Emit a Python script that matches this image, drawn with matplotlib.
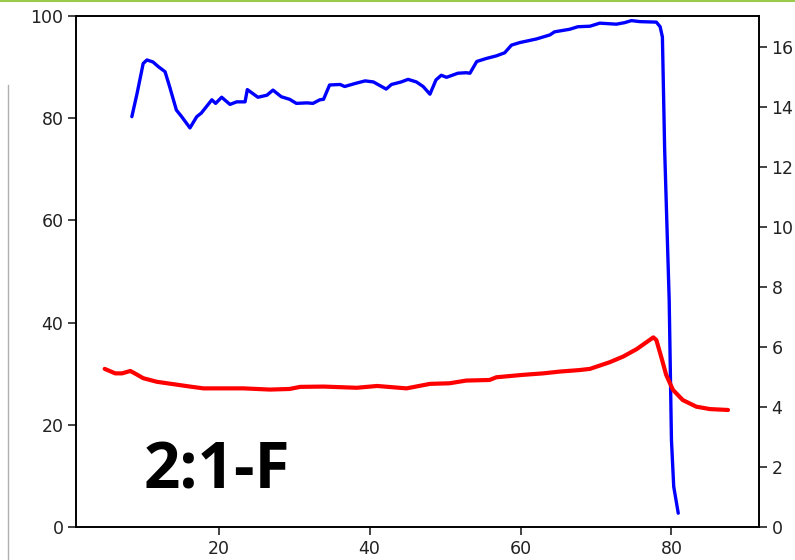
import matplotlib
matplotlib.use("Agg")
import matplotlib.pyplot as plt
from matplotlib.lines import Line2D

# blue trace (left axis, 0-100)
blue_x = [8.5, 9.2, 10.0, 10.5, 11.3, 12.0, 12.9, 13.5, 14.4, 15.1, 16.2, 17.1, 17.7, 18.4,
          19.1, 19.6, 20.4, 21.5, 22.4, 23.5, 23.8, 25.2, 26.4, 27.2, 28.3, 29.4, 30.3, 31.7,
          32.5, 33.4, 33.9, 34.7, 36.1, 36.7, 38.1, 39.4, 40.5, 42.2, 42.9, 44.2, 45.1, 46.2,
          47.1, 48.0, 48.8, 49.5, 50.2, 51.7, 52.8, 53.3, 54.2, 55.5, 56.8, 57.9, 58.8, 59.9,
          62.1, 63.9, 64.5, 66.5, 67.6, 69.2, 70.5, 72.7, 73.8, 74.7, 75.8, 78.0, 78.5, 78.8,
          79.1, 79.7, 80.0, 80.3, 80.9]
blue_y = [80.3, 84.9, 90.7, 91.4, 91.0, 90.1, 89.1, 86.2, 81.6, 80.3, 78.1, 80.3, 81.0, 82.3,
          83.6, 82.9, 84.1, 82.7, 83.2, 83.2, 85.6, 84.1, 84.5, 85.5, 84.2, 83.7, 82.9, 83.0,
          82.9, 83.6, 83.7, 86.5, 86.6, 86.2, 86.8, 87.3, 87.1, 85.7, 86.6, 87.1, 87.6, 87.1,
          86.2, 84.7, 87.5, 88.4, 88.0, 88.8, 88.9, 88.8, 91.1, 91.7, 92.2, 92.8, 94.3, 94.8,
          95.5, 96.3, 96.9, 97.4, 97.9, 98.0, 98.6, 98.4, 98.7, 99.1, 98.9, 98.8, 97.9, 95.9,
          73.8, 44.4, 17.0, 7.9, 2.7]

# red trace (right axis)
red_x = [4.9, 6.3, 7.2, 8.3, 9.1, 10.0, 11.8, 14.0, 16.2, 18.0, 20.6, 23.3, 26.8, 29.4,
         30.8, 33.9, 38.3, 41.0, 44.9, 48.0, 50.6, 52.8, 55.9, 56.8, 60.3, 63.0, 65.2, 67.8,
         69.2, 71.8, 73.6, 75.4, 76.7, 77.6, 78.0, 78.7, 79.3, 80.2, 81.5, 83.3, 85.1, 87.5]
red_y = [5.27, 5.12, 5.12, 5.20, 5.09, 4.96, 4.84, 4.76, 4.68, 4.62, 4.62, 4.62, 4.58, 4.60,
         4.67, 4.68, 4.64, 4.70, 4.62, 4.77, 4.79, 4.88, 4.90, 4.99, 5.07, 5.12, 5.18, 5.23,
         5.27, 5.49, 5.68, 5.93, 6.16, 6.32, 6.23, 5.62, 5.07, 4.57, 4.23, 4.01, 3.93, 3.90]

label = "2:1-F"

fig = plt.figure(figsize=(7.95, 5.6), dpi=100)
ax = fig.add_axes([76 / 795, 33 / 560, 683 / 795, 511 / 560])
ax2 = ax.twinx()

ax.plot(blue_x, blue_y, color="blue", lw=2.4, solid_joinstyle="round", solid_capstyle="round")
ax2.plot(red_x, red_y, color="red", lw=3.0, solid_joinstyle="round", solid_capstyle="round")

ax.set_xlim(1.1, 91.6)
ax.set_ylim(0, 100)
ax2.set_ylim(0, 17.03)
ax.set_xticks([20, 40, 60, 80])
ax.set_yticks([0, 20, 40, 60, 80, 100])
ax2.set_yticks(range(0, 17, 2))

for a in (ax, ax2):
    a.tick_params(labelsize=12.5, length=5.5, width=1.2, colors="#222222")
    for s in a.spines.values():
        s.set_linewidth(1.2)

ax.text(10.0, 7.5, label, fontsize=46, fontweight="bold", family="Open Sans",
        ha="left", va="baseline")

# screenshot leftovers: green rule at the top, grey rule on the left
fig.add_artist(Line2D([0, 1], [0.999, 0.999], color="#9bcb4a", lw=1.5, transform=fig.transFigure))
fig.add_artist(Line2D([7.5 / 795, 7.5 / 795], [0, 475 / 560], color="#b0b0b0", lw=1.0,
                      transform=fig.transFigure))

fig.savefig("out.png", dpi=100)
